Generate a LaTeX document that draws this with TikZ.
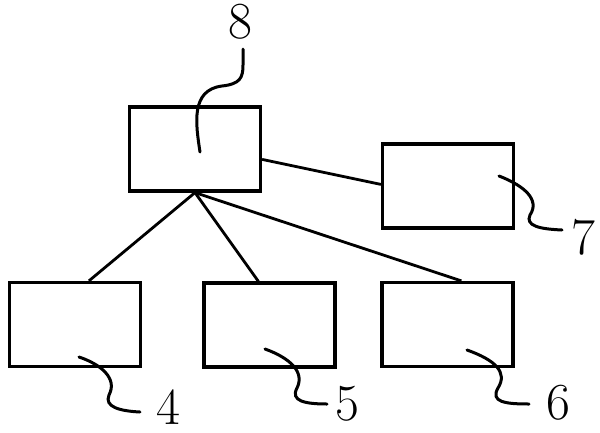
\documentclass[tikz,border=0pt]{standalone}
\usetikzlibrary{calc}
\begin{document}
\begin{tikzpicture}[x=1pt,y=-1pt,
  blk/.style={draw,line width=3.2pt,rectangle,inner sep=0pt,minimum width=131pt,minimum height=84pt},
  conn/.style={line width=2.8pt},
  lead/.style={line width=3pt,line cap=round},
  lbl/.style={inner sep=0pt,font=\fontsize{52}{52}\selectfont}]
\useasboundingbox (0,0) rectangle (600,432);
% boxes
\node[blk] (b8) at (195,149) {};
\node[blk] (b7) at (448,186) {};
\node[blk] (b4) at (75,324.5) {};
\node[blk] (b5) at (269.5,325) {};
\node[blk] (b6) at (447.5,324.5) {};
% labels
\node[lbl] (l8) at (240,22) {8};
\node[lbl] (l7) at (583,237) {7};
\node[lbl] (l4) at (168,407) {4};
\node[lbl] (l5) at (347,404) {5};
\node[lbl] (l6) at (558,403) {6};
% connector attachment points
\coordinate (t4) at ($(b4.north west)+(81,0)$);
\coordinate (t5) at ($(b5.north west)+(56,0)$);
\coordinate (t6) at ($(b6.north west)+(81,0)$);
\coordinate (r8) at ($(b8.north east)+(0,54)$);
\coordinate (w7) at ($(b7.north west)+(0,42)$);
% connectors
\draw[conn] (b8.south) -- (t4);
\draw[conn] (b8.south) -- (t5);
\draw[conn] (b8.south) -- (t6);
\draw[conn] (r8) -- (w7);
% leader curves
\coordinate (s8) at (200,152);
\coordinate (s7) at (499,176);
\coordinate (s4) at (79,357);
\coordinate (s5) at (265,349);
\coordinate (s6) at (467,350);
\coordinate (e8) at (243,49);
\coordinate (e7) at (562,230);
\coordinate (e4) at (140,412);
\coordinate (e5) at (327,404);
\coordinate (e6) at (529,404);
\draw[lead] (s8) .. controls (196,125) and (190,90) .. (222,86) .. controls (240,84) and (243,78) .. (243,65) -- (e8);
\draw[lead] (s7) .. controls (525,186) and (540,200) .. (530,215) .. controls (525,226) and (540,229) .. (e7);
\draw[lead] (s4) .. controls (100,364) and (118,378) .. (109,395) .. controls (104,407) and (120,411) .. (e4);
\draw[lead] (s5) .. controls (290,358) and (305,372) .. (297,388) .. controls (290,401) and (305,404) .. (e5);
\draw[lead] (s6) .. controls (495,360) and (508,372) .. (498,388) .. controls (490,402) and (505,404) .. (e6);
\end{tikzpicture}
\end{document}
